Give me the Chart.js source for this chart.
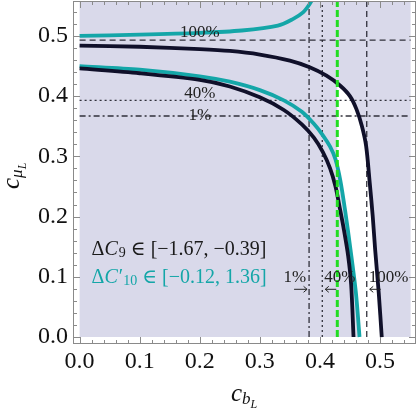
<!DOCTYPE html>
<html>
<head>
<meta charset="utf-8">
<script src="https://cdn.jsdelivr.net/npm/chart.js@4.4.1/dist/chart.umd.min.js"></script>
<style>
  html, body { margin: 0; padding: 0; background: #fff; }
  #wrap { width: 420px; height: 413px; }
</style>
</head>
<body>
<div id="wrap"><canvas id="chart" width="420" height="413"></canvas></div>
<script>
// curves, [c_bL, c_muL]
const tealUpper = [[0, 0.500], [0.1, 0.502], [0.2, 0.505], [0.27, 0.509], [0.33, 0.517],
  [0.355, 0.528], [0.372, 0.539], [0.383, 0.553], [0.39, 0.566]];
const blackOuter = [[0, 0.484], [0.1, 0.482], [0.2, 0.478], [0.25, 0.475], [0.3, 0.469],
  [0.35, 0.459], [0.383, 0.448], [0.411, 0.434], [0.433, 0.418], [0.45, 0.400],
  [0.461, 0.378], [0.47, 0.350], [0.477, 0.317], [0.483, 0.256], [0.488, 0.200],
  [0.492, 0.145], [0.498, 0.073], [0.503, 0]];
const tealInner = [[0, 0.450], [0.1, 0.444], [0.2, 0.433], [0.25, 0.424], [0.3, 0.410],
  [0.34, 0.393], [0.37, 0.374], [0.39, 0.354], [0.405, 0.335], [0.417, 0.316],
  [0.426, 0.295], [0.434, 0.260], [0.442, 0.210], [0.451, 0.145], [0.46, 0.073], [0.466, 0]];
const blackInner = [[0, 0.446], [0.1, 0.438], [0.2, 0.427], [0.25, 0.416], [0.3, 0.398],
  [0.34, 0.377], [0.37, 0.353], [0.39, 0.331], [0.405, 0.307], [0.417, 0.280],
  [0.426, 0.250], [0.433, 0.215], [0.44, 0.178], [0.447, 0.135], [0.452, 0.088], [0.456, 0]];

// reference lines: 100%, 40%, 1%
const refLabels = ['100%', '40%', '1%'];
const hLevels = [0.493, 0.393, 0.367];
const vLevels = [0.478, 0.404, 0.382];
const greenX = 0.429;

const xTicks = [0, 0.1, 0.2, 0.3, 0.4, 0.5];
const yTicks = [0, 0.1, 0.2, 0.3, 0.4, 0.5];
const regionMax = 0.551;

const SERIF = '"Liberation Serif", "DejaVu Serif", serif';
const LAVENDER = '#d9d9ea';
const TEAL = '#14a6a8';
const INK = '#10102a';
const dashStyles = [[6, 4], [2, 3], [6, 3, 2, 3]];

const pts = arr => arr.map(p => ({x: p[0], y: p[1]}));

// y of a curve where it crosses x = x0
function yAtX(curve, x0) {
    for (let i = 0; i < curve.length - 1; i++) {
        const [x1, y1] = curve[i], [x2, y2] = curve[i + 1];
        if (x1 <= x0 && x0 <= x2) return y1 + (y2 - y1) * (x0 - x1) / (x2 - x1);
    }
    return 0;
}

// allowed (white) band: right of the green line, between teal inner and black outer
const whiteRegion = [{x: greenX, y: yAtX(blackOuter, greenX)}]
    .concat(pts(blackOuter.filter(p => p[0] > greenX)))
    .concat(pts(tealInner.filter(p => p[0] > greenX)).reverse())
    .concat([{x: greenX, y: yAtX(tealInner, greenX)}]);

const datasets = [{
    data: whiteRegion, showLine: true, fill: 'shape', backgroundColor: '#ffffff',
    borderWidth: 0, pointRadius: 0, tension: 0, order: 20
}];

hLevels.forEach((h, i) => {
    datasets.push({
        data: [{x: 0, y: h}, {x: regionMax, y: h}], showLine: true, borderColor: 'rgba(30,30,40,0.9)',
        borderWidth: 1.3, borderDash: dashStyles[i], pointRadius: 0, order: 10
    });
});
vLevels.forEach((v, i) => {
    datasets.push({
        data: [{x: v, y: 0}, {x: v, y: 0.6}], showLine: true, borderColor: 'rgba(30,30,40,0.9)',
        borderWidth: 1.3, borderDash: dashStyles[i], pointRadius: 0, order: 10
    });
});

[[tealUpper, TEAL], [blackOuter, INK], [blackInner, INK], [tealInner, TEAL]].forEach(([c, col]) => {
    datasets.push({
        data: pts(c), showLine: true, borderColor: col, borderWidth: 3.8,
        pointRadius: 0, tension: 0.3, order: 2
    });
});

datasets.push({
    data: [{x: greenX, y: 0}, {x: greenX, y: 0.6}], showLine: true, borderColor: '#22dd22',
    borderWidth: 3, borderDash: [7, 3], pointRadius: 0, order: 0
});

// frame, inward ticks, shading and all the texts
const decor = {
    id: 'decor',
    beforeDatasetsDraw(chart) {
        const {ctx, chartArea: a, scales: {x, y}} = chart;
        ctx.save();
        ctx.fillStyle = LAVENDER;
        const x0 = x.getPixelForValue(0), x1 = x.getPixelForValue(regionMax);
        const y0 = y.getPixelForValue(0);
        ctx.fillRect(x0, a.top, x1 - x0, y0 - a.top);
        ctx.restore();
    },
    afterDatasetsDraw(chart) {
        const {ctx, chartArea: a, scales: {x, y}} = chart;
        ctx.save();
        // frame
        ctx.strokeStyle = '#8a8a8a';
        ctx.lineWidth = 1;
        ctx.strokeRect(a.left + 0.5, a.top + 0.5, a.right - a.left - 1, a.bottom - a.top - 1);
        ctx.beginPath();
        for (let k = 0; k <= 28; k++) {
            const v = k * 0.02;
            const len = k % 5 === 0 ? 7 : 4;
            const px = Math.round(x.getPixelForValue(v)) + 0.5;
            if (px < a.right - 1) {
                ctx.moveTo(px, a.bottom); ctx.lineTo(px, a.bottom - len);
                ctx.moveTo(px, a.top); ctx.lineTo(px, a.top + len);
            }
            const py = Math.round(y.getPixelForValue(v)) + 0.5;
            if (py > a.top + 1) {
                ctx.moveTo(a.left, py); ctx.lineTo(a.left + len, py);
                ctx.moveTo(a.right, py); ctx.lineTo(a.right - len, py);
            }
        }
        ctx.stroke();

        // percentage labels on the horizontal lines
        ctx.fillStyle = '#222';
        ctx.font = '17px ' + SERIF;
        ctx.textAlign = 'center';
        ctx.textBaseline = 'alphabetic';
        const lx = x.getPixelForValue(0.2);
        const hOff = [3, 2, -4];
        refLabels.forEach((t, i) => {
            ctx.fillText(t, lx, y.getPixelForValue(hLevels[i]) - hOff[i]);
        });

        // percentage labels and arrows at the vertical lines
        const ty = y.getPixelForValue(0.1) + 5;
        const ay = ty + 7.5;
        ctx.strokeStyle = '#222';
        ctx.lineWidth = 1;
        refLabels.forEach((t, i) => {
            const px = x.getPixelForValue(vLevels[i]);
            let from, to;
            if (i === 2) {
                ctx.textAlign = 'right';
                ctx.fillText(t, px - 3, ty);
                from = px - 15; to = px - 2;
            } else {
                ctx.textAlign = 'left';
                ctx.fillText(t, px + 2, ty);
                from = px + 14; to = px + 3;
            }
            const dir = Math.sign(to - from);
            ctx.beginPath();
            ctx.moveTo(from, ay); ctx.lineTo(to, ay);
            ctx.moveTo(to - dir * 3.5, ay - 3); ctx.lineTo(to, ay); ctx.lineTo(to - dir * 3.5, ay + 3);
            ctx.stroke();
        });

        // legend of the two coefficient ranges
        const parts = [
            [['Δ', ''], ['C', 'italic '], ['9', 'sub'], [' ∈ [−1.67, −0.39]', '']],
            [['Δ', ''], ['C', 'italic '], ['′', ''], ['10', 'sub'], [' ∈ [−0.12, 1.36]', '']]
        ];
        const colors = ['#1a1a1a', TEAL];
        ctx.textAlign = 'left';
        parts.forEach((line, li) => {
            let cx = x.getPixelForValue(0.02);
            const base = y.getPixelForValue(0.137) + li * 28;
            ctx.fillStyle = colors[li];
            line.forEach(([s, st]) => {
                if (st === 'sub') {
                    ctx.font = '14px ' + SERIF;
                    ctx.fillText(s, cx, base + 2);
                } else {
                    ctx.font = st + '20px ' + SERIF;
                    ctx.fillText(s, cx, base);
                }
                cx += ctx.measureText(s).width + (st === 'italic ' ? 1 : 0);
            });
        });
        ctx.restore();
    },
    afterDraw(chart) {
        const {ctx} = chart;
        ctx.save();
        ctx.fillStyle = '#111';
        ctx.textAlign = 'left';
        ctx.textBaseline = 'alphabetic';
        // x title c_{b_L}
        let cx = 231;
        ctx.font = 'italic 25px ' + SERIF;
        ctx.fillText('c', cx, 401);
        cx += ctx.measureText('c').width;
        ctx.font = 'italic 17px ' + SERIF;
        ctx.fillText('b', cx, 404);
        cx += ctx.measureText('b').width;
        ctx.font = 'italic 12px ' + SERIF;
        ctx.fillText('L', cx, 408);
        // y title c_{mu_L}
        ctx.translate(19, 189);
        ctx.rotate(-Math.PI / 2);
        cx = 0;
        ctx.font = 'italic 25px ' + SERIF;
        ctx.fillText('c', cx, 0);
        cx += ctx.measureText('c').width;
        ctx.font = 'italic 17px ' + SERIF;
        ctx.fillText('μ', cx, 3);
        cx += ctx.measureText('μ').width;
        ctx.font = 'italic 12px ' + SERIF;
        ctx.fillText('L', cx, 7);
        ctx.restore();
    }
};

const tickFont = {family: SERIF, size: 24};
const fmt = v => (Math.abs(v) < 1e-9 ? 0 : v).toFixed(1);

new Chart(document.getElementById('chart').getContext('2d'), {
    type: 'scatter',
    data: {datasets: datasets},
    options: {
        responsive: false,
        animation: false,
        layout: {padding: {top: 1, right: 4, left: 0, bottom: 0}},
        plugins: {legend: {display: false}, tooltip: {enabled: false}},
        scales: {
            x: {
                type: 'linear', min: -0.011, max: 0.56,
                grid: {display: false, drawTicks: false}, border: {display: false},
                afterBuildTicks: s => { s.ticks = xTicks.map(v => ({value: v})); },
                ticks: {padding: 3, font: tickFont, color: '#111', callback: fmt, maxRotation: 0},
                afterFit: s => { s.height = 69; s.paddingLeft = 0; s.paddingRight = 0; }
            },
            y: {
                type: 'linear', min: -0.0116, max: 0.558,
                grid: {display: false, drawTicks: false}, border: {display: false},
                afterBuildTicks: s => { s.ticks = yTicks.map(v => ({value: v})); },
                ticks: {padding: 5, font: tickFont, color: '#111', callback: fmt},
                afterFit: s => { s.width = 73; s.paddingTop = 0; s.paddingBottom = 0; }
            }
        }
    },
    plugins: [decor]
});
</script>
</body>
</html>
